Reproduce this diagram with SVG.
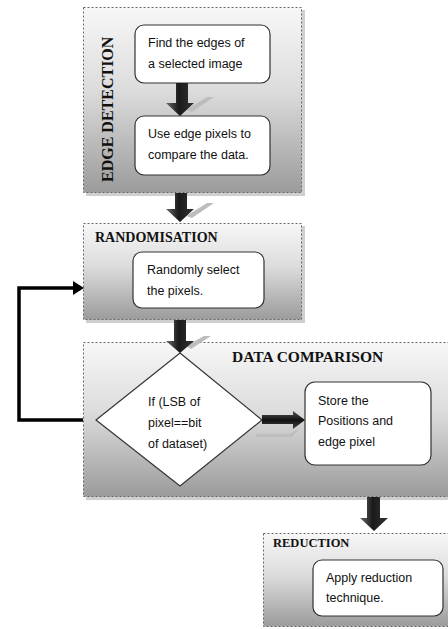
<svg xmlns="http://www.w3.org/2000/svg" width="448" height="629" viewBox="0 0 448 629">
  <defs>
    <linearGradient id="panelFill" x1="0" y1="0" x2="0" y2="1">
      <stop offset="0" stop-color="#f7f7f7"/>
      <stop offset="0.45" stop-color="#dcdcdc"/>
      <stop offset="1" stop-color="#9b9b9b"/>
    </linearGradient>
    <linearGradient id="arrowFill" x1="0" y1="0" x2="1" y2="0">
      <stop offset="0" stop-color="#6a6a6a"/>
      <stop offset="0.45" stop-color="#1a1a1a"/>
      <stop offset="1" stop-color="#333"/>
    </linearGradient>
    <linearGradient id="arrowFillH" x1="0" y1="0" x2="0" y2="1">
      <stop offset="0" stop-color="#555"/>
      <stop offset="0.5" stop-color="#111"/>
      <stop offset="1" stop-color="#444"/>
    </linearGradient>
  </defs>
  <style>
    .panel { fill: url(#panelFill); stroke: #666; stroke-width: 1; stroke-dasharray: 2 2; }
    .panelShadow { fill: #cfcfcf; }
    .box { fill: #fff; stroke: #333; stroke-width: 1.2; }
    .title { font-family: "Liberation Serif", "Times New Roman", serif; font-weight: bold; fill: #111; }
    .label { font-family: "Liberation Sans", Arial, sans-serif; font-size: 12.5px; fill: #111; }
    .shadow { fill: #bdbdbd; }
    .blockArrow { fill: url(#arrowFill); }
  </style>

  <g id="edge-detection">
    <rect class="panelShadow" x="86" y="10" width="219" height="186"/>
    <rect class="panel" x="83.5" y="7.5" width="218" height="185"/>
    <text class="title" font-size="16" transform="translate(113,182) rotate(-90)" fill="#222">EDGE DETECTION</text>
    <g id="find-edges">
      <rect class="box" x="135" y="25" width="135" height="58" rx="9"/>
      <text class="label" x="148" y="47">Find the edges of</text>
      <text class="label" x="148" y="68">a selected image</text>
    </g>
    <g id="use-edge-pixels">
      <rect class="box" x="135" y="116" width="135" height="59" rx="9"/>
      <text class="label" x="148" y="138">Use edge pixels to</text>
      <text class="label" x="148" y="159">compare the data.</text>
    </g>
  </g>

  <g id="randomisation">
    <rect class="panelShadow" x="86" y="226" width="219" height="97"/>
    <rect class="panel" x="83.5" y="223.5" width="218" height="96"/>
    <text class="title" font-size="14" x="95" y="242">RANDOMISATION</text>
    <g id="select-pixels">
      <rect class="box" x="133" y="252" width="131" height="56" rx="9"/>
      <text class="label" x="147" y="274">Randomly select</text>
      <text class="label" x="147" y="295">the pixels.</text>
    </g>
  </g>

  <g id="data-comparison">
    <rect class="panelShadow" x="86" y="345" width="370" height="155"/>
    <rect class="panel" x="83.5" y="342.5" width="370" height="154"/>
    <text class="title" font-size="15.5" x="232" y="362">DATA COMPARISON</text>
    <g id="lsb-check">
      <polygon points="180,353 262,420 180,486 96,420" fill="#fff" stroke="#333" stroke-width="1.2"/>
      <text class="label" x="148" y="406">If (LSB of</text>
      <text class="label" x="148" y="427">pixel==bit</text>
      <text class="label" x="148" y="448">of dataset)</text>
    </g>
    <g id="store-positions">
      <rect class="box" x="305" y="382" width="126" height="83" rx="10"/>
      <text class="label" x="318" y="405">Store the</text>
      <text class="label" x="318" y="425">Positions and</text>
      <text class="label" x="318" y="446">edge pixel</text>
    </g>
  </g>

  <g id="reduction">
    <rect class="panel" x="263.5" y="533.5" width="190" height="93"/>
    <text class="title" font-size="12.5" x="273" y="547">REDUCTION</text>
    <g id="apply-reduction">
      <rect class="box" x="313" y="560" width="130" height="56" rx="9"/>
      <text class="label" x="326" y="582">Apply reduction</text>
      <text class="label" x="326" y="602">technique.</text>
    </g>
  </g>

  <g id="connectors">
    <!-- find edges -> use edge pixels -->
    <polygon class="shadow" points="186,110 207,97 214,97 192,112"/>
    <polygon class="blockArrow" points="176,83 188,83 188,103 194,103 180,116 166,103 176,103"/>
    <!-- edge detection -> randomisation -->
    <polygon class="shadow" points="186,216 207,203 214,203 192,218"/>
    <polygon class="blockArrow" points="175,193 187,193 187,209 194,209 180,222 166,209 175,209"/>
    <!-- randomisation -> decision -->
    <polygon class="shadow" points="186,346 204,336 211,336 191,349"/>
    <polygon class="blockArrow" points="174,320 186,320 186,341 194,341 180,353 166,341 174,341"/>
    <!-- decision -> store -->
    <polygon class="shadow" points="256,434 290,434 300,428 292,437 256,437"/>
    <polygon points="262,415 293,415 293,411 305,420 293,429 293,424 262,424" fill="url(#arrowFillH)"/>
    <!-- data comparison -> reduction -->
    <polygon class="blockArrow" points="367,497 380,497 380,518 388,518 374,531 360,518 367,518"/>
    <!-- loop back to randomisation -->
    <polyline points="83,420 19,420 19,288 76,288" fill="none" stroke="#000" stroke-width="3.5"/>
    <polygon points="73,281 84,288 73,295" fill="#000"/>
  </g>
</svg>
